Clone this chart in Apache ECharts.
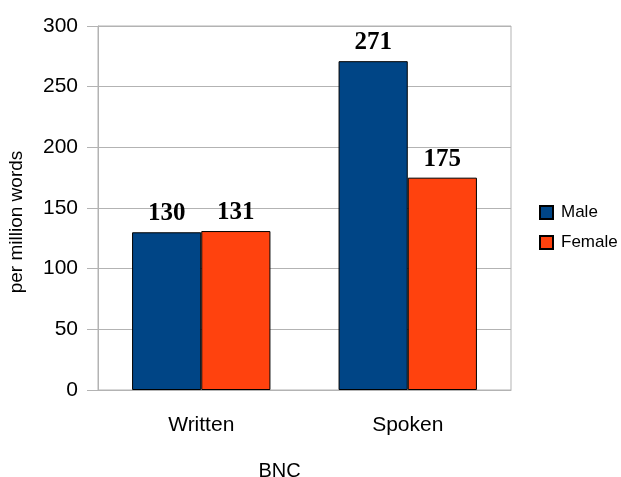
<!DOCTYPE html>
<html>
<head>
<meta charset="utf-8">
<script src="https://cdn.jsdelivr.net/npm/echarts@6/dist/echarts.min.js"></script>
<style>
  html, body { margin: 0; padding: 0; background: #fff; }
  #chart { width: 621px; height: 477px; }
</style>
</head>
<body>
<div id="chart"></div>
<script>
// Frequency per million words in the BNC, by register and speaker sex
const categories = ['Written', 'Spoken'];
const maleValues = [130, 271];
const femaleValues = [131, 175];
const seriesNames = ['Male', 'Female'];
const yTicks = { min: 0, max: 300, interval: 50 };
const yTitle = 'per million words';
const xTitle = 'BNC';

const gridColor = '#b3b3b3';
const sansFont = '"Liberation Sans", Arial, sans-serif';
const serifFont = '"Liberation Serif", "Times New Roman", serif';

const chart = echarts.init(document.getElementById('chart'), null, { renderer: 'canvas' });

const valueLabel = {
  show: true,
  position: 'top',
  distance: 6,
  fontFamily: serifFont,
  fontWeight: 'bold',
  fontSize: 25,
  color: '#000'
};

chart.setOption({
  animation: false,
  backgroundColor: '#fff',
  grid: {
    left: 98, right: 110, top: 26, bottom: 87,
    show: true, borderColor: gridColor, borderWidth: 1
  },
  legend: {
    orient: 'vertical',
    left: 539, top: 204,
    padding: 0,
    itemWidth: 13, itemHeight: 13, itemGap: 13,
    icon: 'rect',
    textStyle: { fontFamily: sansFont, fontSize: 17, color: '#000', padding: [0, 0, 0, 3] },
    data: seriesNames
  },
  xAxis: {
    type: 'category',
    data: categories,
    axisLine: { lineStyle: { color: gridColor } },
    axisTick: { alignWithLabel: true, length: 10, lineStyle: { color: gridColor } },
    axisLabel: { fontFamily: sansFont, fontSize: 21, color: '#000', margin: 25 }
  },
  yAxis: {
    type: 'value',
    min: yTicks.min, max: yTicks.max, interval: yTicks.interval,
    axisLine: { show: true, lineStyle: { color: gridColor } },
    axisTick: { show: true, length: 11, lineStyle: { color: gridColor } },
    splitLine: { lineStyle: { color: gridColor } },
    axisLabel: { fontFamily: sansFont, fontSize: 21, color: '#000', margin: 20 }
  },
  graphic: [
    {
      type: 'text',
      x: 17, y: 222,
      rotation: Math.PI / 2,
      style: { text: yTitle, font: '19px ' + sansFont, fill: '#000', align: 'center', verticalAlign: 'middle' }
    },
    {
      type: 'text',
      x: 279.5, y: 471,
      style: { text: xTitle, font: '20px ' + sansFont, fill: '#000', align: 'center', verticalAlign: 'middle' }
    }
  ],
  series: [
    {
      name: seriesNames[0], type: 'bar', data: maleValues,
      barGap: '0%', barCategoryGap: '33%',
      itemStyle: { color: '#004586', borderColor: '#000', borderWidth: 1 },
      label: valueLabel
    },
    {
      name: seriesNames[1], type: 'bar', data: femaleValues,
      itemStyle: { color: '#ff420e', borderColor: '#000', borderWidth: 1 },
      label: valueLabel
    }
  ]
});
</script>
</body>
</html>
